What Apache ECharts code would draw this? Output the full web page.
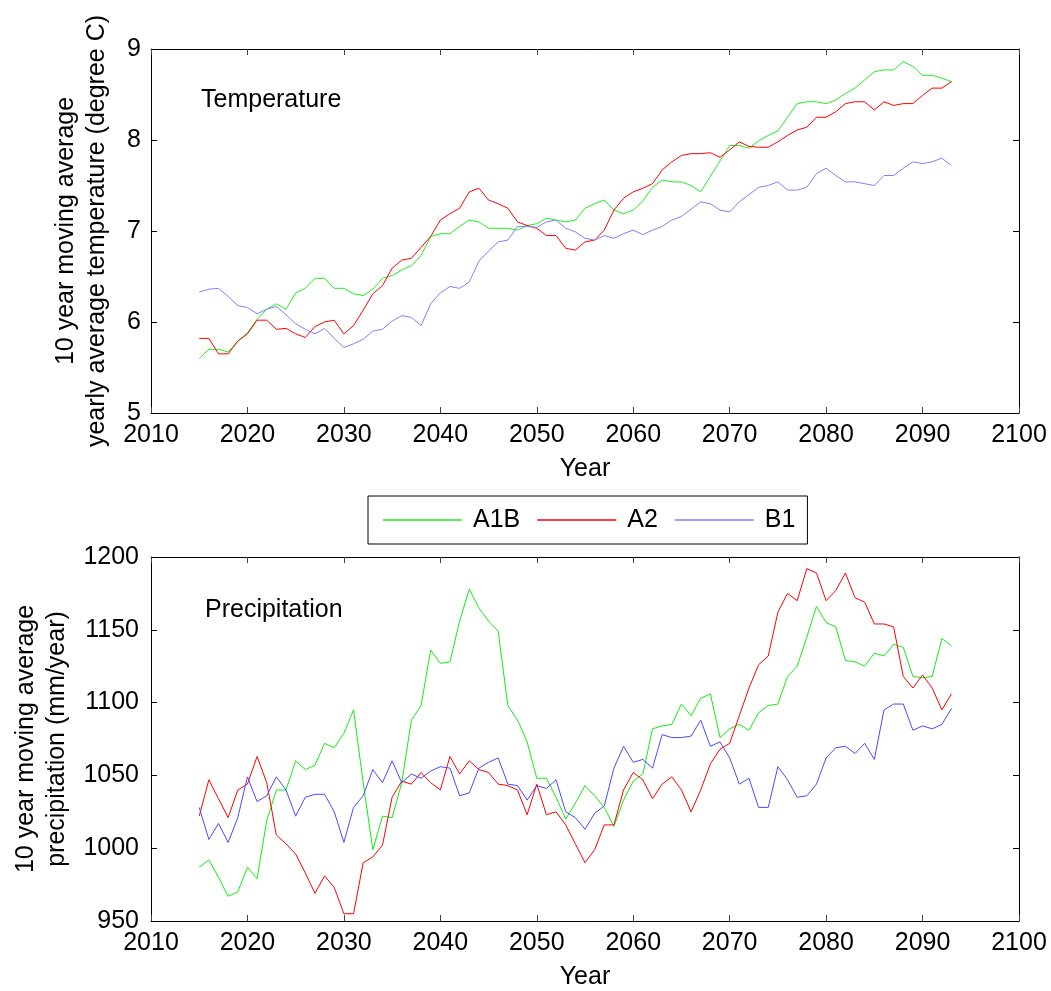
<!DOCTYPE html>
<html>
<head>
<meta charset="utf-8">
<script src="https://cdn.jsdelivr.net/npm/echarts@6/dist/echarts.min.js"></script>
<style>
html,body{margin:0;padding:0;background:#fff;}
#chart{width:1051px;height:991px;}
</style>
</head>
<body>
<div id="chart"></div>
<script>
var years = [2015,2016,2017,2018,2019,2020,2021,2022,2023,2024,2025,2026,2027,2028,2029,2030,2031,2032,2033,2034,2035,2036,2037,2038,2039,2040,
2041,2042,2043,2044,2045,2046,2047,2048,2049,2050,2051,2052,2053,2054,2055,2056,2057,2058,2059,2060,2061,2062,2063,2064,2065,2066,2067,2068,2069,
2070,2071,2072,2073,2074,2075,2076,2077,2078,2079,2080,2081,2082,2083,2084,2085,2086,2087,2088,2089,2090,2091,2092,2093];

var tempA1B = [5.60,5.70,5.70,5.67,5.79,5.88,6.03,6.14,6.20,6.14,6.32,6.37,6.48,6.48,6.37,6.37,6.31,6.29,6.36,6.48,6.51,6.57,6.62,6.73,6.94,6.97,
6.97,7.05,7.12,7.10,7.03,7.03,7.03,7.01,7.06,7.08,7.14,7.12,7.10,7.12,7.25,7.30,7.34,7.23,7.19,7.23,7.33,7.48,7.56,7.54,7.54,7.50,7.43,7.60,7.77,
7.94,7.94,7.91,7.99,8.05,8.10,8.25,8.40,8.42,8.42,8.40,8.44,8.51,8.57,8.66,8.75,8.77,8.77,8.86,8.81,8.71,8.71,8.68,8.64];

var tempA2 = [5.82,5.82,5.65,5.65,5.79,5.87,6.02,6.02,5.92,5.93,5.87,5.83,5.95,6.00,6.02,5.87,5.96,6.13,6.31,6.40,6.59,6.68,6.70,6.82,6.94,7.12,
7.19,7.25,7.43,7.47,7.34,7.30,7.25,7.10,7.06,7.03,6.95,6.95,6.81,6.79,6.88,6.90,7.01,7.23,7.36,7.43,7.47,7.52,7.67,7.76,7.83,7.85,7.85,7.86,7.81,
7.89,7.98,7.93,7.92,7.92,7.98,8.05,8.11,8.14,8.25,8.25,8.31,8.40,8.42,8.42,8.33,8.42,8.38,8.40,8.40,8.49,8.57,8.57,8.64];

var tempB1 = [6.33,6.36,6.37,6.28,6.18,6.16,6.09,6.14,6.17,6.08,5.98,5.92,5.87,5.93,5.82,5.72,5.76,5.81,5.90,5.92,6.01,6.07,6.05,5.96,6.20,6.32,
6.39,6.37,6.44,6.67,6.78,6.88,6.90,7.05,7.05,7.04,7.10,7.12,7.03,6.99,6.92,6.90,6.95,6.92,6.97,7.01,6.96,7.01,7.05,7.12,7.16,7.24,7.32,7.30,7.23,
7.21,7.32,7.40,7.48,7.50,7.54,7.45,7.45,7.48,7.63,7.69,7.61,7.54,7.54,7.52,7.50,7.61,7.61,7.69,7.76,7.74,7.76,7.80,7.72];

var precA1B = [987,992,980,967,970,987,979,1019,1040,1040,1060,1054,1057,1072,1069,1079,1095,1045,999,1022,1021,1045,1088,1098,1136,1127,
1128,1156,1178,1165,1156,1149,1098,1088,1073,1048,1048,1035,1020,1031,1043,1036,1028,1015,1033,1046,1051,1082,1084,1085,1099,1091,1103,1106,1076,
1082,1085,1081,1093,1098,1099,1118,1125,1145,1166,1155,1152,1129,1128,1125,1134,1132,1140,1138,1118,1117,1118,1144,1139];

var precA2 = [1022,1047,1034,1021,1040,1044,1063,1045,1009,1003,996,983,969,981,973,955,955,990,994,1002,1035,1046,1044,1052,1045,1040,
1063,1051,1060,1054,1052,1044,1043,1040,1023,1044,1023,1025,1016,1003,990,999,1016,1016,1040,1052,1047,1034,1044,1049,1040,1025,1040,1058,1068,
1072,1091,1110,1126,1132,1162,1175,1170,1192,1189,1170,1177,1189,1172,1169,1154,1154,1152,1118,1110,1119,1110,1095,1106];

var precB1 = [1028,1006,1017,1004,1021,1049,1032,1036,1049,1040,1022,1035,1037,1037,1025,1004,1028,1036,1054,1045,1060,1045,1051,1048,1053,1056,
1055,1036,1038,1055,1059,1062,1044,1043,1033,1043,1041,1047,1025,1021,1013,1024,1029,1055,1070,1059,1061,1055,1078,1076,1076,1077,1088,1070,1073,
1062,1044,1048,1028,1028,1056,1047,1035,1036,1044,1062,1069,1070,1065,1072,1061,1095,1099,1099,1081,1084,1082,1085,1096];

var scenarioNames = ['A1B','A2','B1'];
var xTickLabels = [2010,2020,2030,2040,2050,2060,2070,2080,2090,2100];
var tempTicks = [5,6,7,8,9];
var precTicks = [950,1000,1050,1100,1150,1200];

function pairs(vals){ return years.map(function(y,i){ return [y, vals[i]]; }); }

var FONT = 'Liberation Sans, Arial, sans-serif';
var FS = 25;
function plain(v){ return String(v); }

function xAxes(gridIndex){
  return [{
    type:'value', gridIndex:gridIndex, position:'bottom',
    min:xTickLabels[0], max:xTickLabels[xTickLabels.length-1], interval:10,
    name:'Year', nameLocation:'middle', nameGap:44,
    nameTextStyle:{color:'#000', fontSize:FS, fontFamily:FONT},
    axisLine:{show:true, onZero:false, lineStyle:{color:'#000', width:1}},
    axisTick:{show:true, inside:true, length:6, lineStyle:{color:'#444'}},
    axisLabel:{color:'#000', fontSize:FS, fontFamily:FONT, margin:10, formatter:plain},
    splitLine:{show:false}
  },{
    type:'value', gridIndex:gridIndex, position:'top',
    min:xTickLabels[0], max:xTickLabels[xTickLabels.length-1], interval:10,
    axisLine:{show:true, onZero:false, lineStyle:{color:'#000', width:1}},
    axisTick:{show:true, inside:true, length:6, lineStyle:{color:'#444'}},
    axisLabel:{show:false}, splitLine:{show:false}
  }];
}

function yAxes(gridIndex, ticks, name, nameGap, labelMargin){
  var mn = ticks[0], mx = ticks[ticks.length-1], iv = ticks[1]-ticks[0];
  return [{
    type:'value', gridIndex:gridIndex, position:'left',
    min:mn, max:mx, interval:iv,
    name:name, nameLocation:'middle', nameRotate:90, nameGap:nameGap,
    nameTextStyle:{color:'#000', fontSize:FS, fontFamily:FONT, lineHeight:31, align:'center'},
    axisLine:{show:true, onZero:false, lineStyle:{color:'#000', width:1}},
    axisTick:{show:true, inside:true, length:6, lineStyle:{color:'#000'}},
    axisLabel:{color:'#000', fontSize:FS, fontFamily:FONT, margin:labelMargin, formatter:plain},
    splitLine:{show:false}
  },{
    type:'value', gridIndex:gridIndex, position:'right',
    min:mn, max:mx, interval:iv,
    axisLine:{show:true, onZero:false, lineStyle:{color:'#000', width:1}},
    axisTick:{show:true, inside:true, length:6, lineStyle:{color:'#000'}},
    axisLabel:{show:false}, splitLine:{show:false}
  }];
}

var topColors = ['#22ee22','#ff0000','#8080ff'];
var botColors = ['#11ee11','#ff0000','#4a4aff'];

function makeSeries(name, vals, color, xi, yi){
  return {
    name:name, type:'line', data:pairs(vals), xAxisIndex:xi, yAxisIndex:yi,
    symbol:'none', showSymbol:false, smooth:false, animation:false,
    lineStyle:{color:color, width:1}, itemStyle:{color:color}
  };
}

var option = {
  backgroundColor:'#fff',
  animation:false,
  grid:[
    {left:151, top:49, width:868, height:364},
    {left:151, top:557, width:868, height:365}
  ],
  xAxis: xAxes(0).concat(xAxes(1)),
  yAxis: yAxes(0, tempTicks, '10 year moving average\nyearly average temperature (degree C)', 38, 10)
    .concat(yAxes(1, precTicks, '10 year moving average\nprecipitation (mm/year)', 69, 12)),
  legend:{
    data:scenarioNames,
    icon:'rect',
    left:368, top:496,
    padding:[11,12,11,15],
    borderColor:'#000', borderWidth:1,
    itemWidth:79, itemHeight:1.5, itemGap:17,
    textStyle:{color:'#000', fontSize:FS, fontFamily:FONT, padding:[0,0,0,6], lineHeight:26},
    selectedMode:false
  },
  graphic:[
    {type:'text', left:201, top:88, style:{text:'Temperature', fill:'#000', font:FS+'px '+FONT}},
    {type:'text', left:205, top:598, style:{text:'Precipitation', fill:'#000', font:FS+'px '+FONT}}
  ],
  series:[
    makeSeries(scenarioNames[0], tempA1B, topColors[0], 0, 0),
    makeSeries(scenarioNames[1], tempA2, topColors[1], 0, 0),
    makeSeries(scenarioNames[2], tempB1, topColors[2], 0, 0),
    makeSeries(scenarioNames[0], precA1B, botColors[0], 2, 2),
    makeSeries(scenarioNames[1], precA2, botColors[1], 2, 2),
    makeSeries(scenarioNames[2], precB1, botColors[2], 2, 2)
  ]
};

var chart = echarts.init(document.getElementById('chart'), null, {renderer:'canvas'});
chart.setOption(option);
</script>
</body>
</html>
